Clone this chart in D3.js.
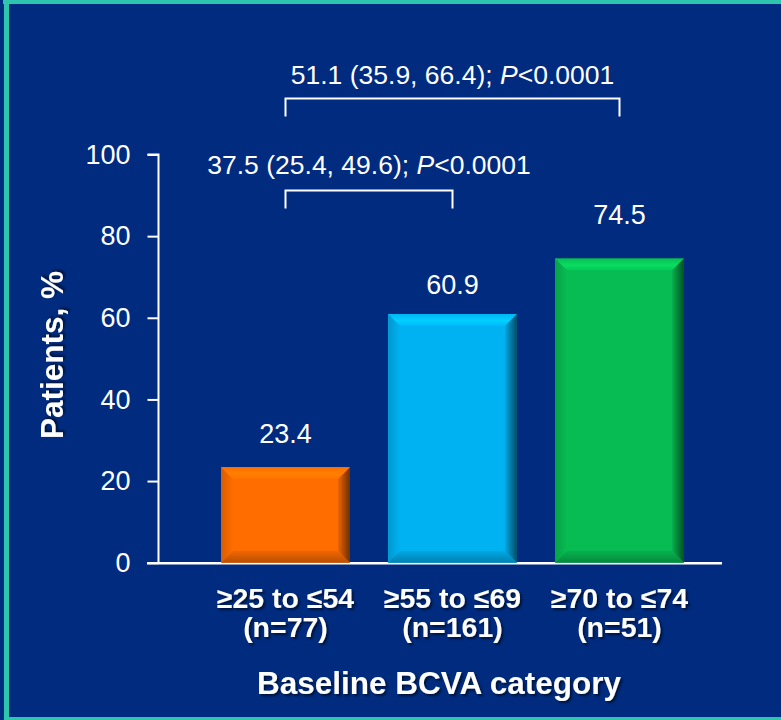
<!DOCTYPE html>
<html>
<head>
<meta charset="utf-8">
<script src="https://cdn.jsdelivr.net/npm/d3@7"></script>
<style>
  html, body { margin: 0; padding: 0; background: #002b7f; }
  svg { display: block; }
  text { font-family: Arial, "Liberation Sans", sans-serif; fill: #ffffff; }
</style>
</head>
<body>
<svg id="chart" width="781" height="720"></svg>
<script>
// Response rate by baseline BCVA category
const categories = ["≥25 to ≤54", "≥55 to ≤69", "≥70 to ≤74"];
const sampleSizes = ["(n=77)", "(n=161)", "(n=51)"];
const values = [23.4, 60.9, 74.5];
const yTicks = [0, 20, 40, 60, 80, 100];
// Pairwise comparisons between categories
const comparisons = [
  { from: 0, to: 1, diff: "37.5 (25.4, 49.6); ", p: "<0.0001", level: 0 },
  { from: 0, to: 2, diff: "51.1 (35.9, 66.4); ", p: "<0.0001", level: 1 }
];

// Styling
const barColors = ["#ff6d00", "#00b2f2", "#07bd53"];
const labelLift = [24, 20, 35];

const svg = d3.select("#chart");
const W = 781, H = 720;

// Background and frame
svg.append("rect").attr("width", W).attr("height", H).attr("fill", "#002b7f");
svg.append("rect").attr("x", 3).attr("y", 0).attr("width", W - 3).attr("height", 4).attr("fill", "#2ec5ae");
svg.append("rect").attr("x", 4).attr("y", 0).attr("width", 5).attr("height", H).attr("fill", "#2ec5ae");
svg.append("rect").attr("x", 4).attr("y", 717).attr("width", W - 4).attr("height", 3).attr("fill", "#2ec5ae");

const defs = svg.append("defs");
const shadow = defs.append("filter").attr("id", "txtShadow")
  .attr("x", "-10%").attr("y", "-30%").attr("width", "130%").attr("height", "180%");
shadow.append("feDropShadow").attr("dx", 2).attr("dy", 2).attr("stdDeviation", 1)
  .attr("flood-color", "#000000").attr("flood-opacity", 0.55);

// Bevel gradients for each bar colour
barColors.forEach((col, i) => {
  const c = d3.color(col);
  const top = defs.append("linearGradient").attr("id", `top${i}`).attr("x1", 0).attr("y1", 0).attr("x2", 0).attr("y2", 1);
  top.append("stop").attr("offset", "0%").attr("stop-color", c.brighter(0.05));
  top.append("stop").attr("offset", "55%").attr("stop-color", c.brighter(0.45));
  top.append("stop").attr("offset", "100%").attr("stop-color", c.brighter(0.1));
  const right = defs.append("linearGradient").attr("id", `right${i}`).attr("x1", 0).attr("y1", 0).attr("x2", 1).attr("y2", 0);
  right.append("stop").attr("offset", "0%").attr("stop-color", c.darker(0.2));
  right.append("stop").attr("offset", "100%").attr("stop-color", c.darker(2.4));
  const bottom = defs.append("linearGradient").attr("id", `bottom${i}`).attr("x1", 0).attr("y1", 0).attr("x2", 0).attr("y2", 1);
  bottom.append("stop").attr("offset", "0%").attr("stop-color", c.darker(0.15));
  bottom.append("stop").attr("offset", "100%").attr("stop-color", c.darker(0.9));
  const left = defs.append("linearGradient").attr("id", `left${i}`).attr("x1", 0).attr("y1", 0).attr("x2", 1).attr("y2", 0);
  left.append("stop").attr("offset", "0%").attr("stop-color", c.darker(0.45));
  left.append("stop").attr("offset", "100%").attr("stop-color", c);
});

const y = d3.scaleLinear().domain([0, 100]).range([562.7, 154.5]);
const x = d3.scaleBand().domain(d3.range(categories.length)).range([202, 703]).paddingInner(0.228).paddingOuter(0.114);

// Y axis
const yAxis = svg.append("g").attr("transform", "translate(158.5,0)")
  .call(d3.axisLeft(y).tickValues(yTicks).tickSize(11).tickPadding(17));
yAxis.select(".domain").attr("stroke", "#fff").attr("stroke-width", 2)
  .attr("d", `M-11,${y(100)}H0V${y(0)}`);
yAxis.selectAll(".tick line").attr("stroke", "#fff").attr("stroke-width", 2);
yAxis.selectAll(".tick text").attr("fill", "#fff").attr("font-size", 27)
  .style("font-family", "Arial, 'Liberation Sans', sans-serif");

// X axis baseline
svg.append("line").attr("x1", 147).attr("x2", 722).attr("y1", y(0) + 0.5).attr("y2", y(0) + 0.5)
  .attr("stroke", "#fff").attr("stroke-width", 2.5);

// Bars with bevelled edges
const bevel = 12;
const bars = svg.append("g").selectAll("g").data(values).join("g");
bars.each(function(v, i) {
  const g = d3.select(this);
  const x0 = x(i), x1 = x(i) + x.bandwidth();
  const y0 = y(v), y1 = y(0);
  g.append("rect").attr("x", x0).attr("y", y0).attr("width", x1 - x0).attr("height", y1 - y0)
    .attr("fill", barColors[i]);
  g.append("path").attr("d", `M${x0},${y0}L${x1},${y0}L${x1 - bevel},${y0 + bevel}L${x0 + bevel},${y0 + bevel}Z`)
    .attr("fill", `url(#top${i})`);
  g.append("path").attr("d", `M${x0},${y0}L${x0 + bevel},${y0 + bevel}L${x0 + bevel},${y1 - bevel}L${x0},${y1}Z`)
    .attr("fill", `url(#left${i})`);
  g.append("path").attr("d", `M${x0},${y1}L${x1},${y1}L${x1 - bevel},${y1 - bevel}L${x0 + bevel},${y1 - bevel}Z`)
    .attr("fill", `url(#bottom${i})`);
  g.append("path").attr("d", `M${x1},${y0}L${x1},${y1}L${x1 - bevel},${y1 - bevel}L${x1 - bevel},${y0 + bevel}Z`)
    .attr("fill", `url(#right${i})`);
  g.append("text").attr("x", (x0 + x1) / 2).attr("y", y0 - labelLift[i])
    .attr("text-anchor", "middle").attr("font-size", 27).text(v.toFixed(1));
});

// Category labels
const xl = svg.append("g");
categories.forEach((c, i) => {
  const cx = x(i) + x.bandwidth() / 2;
  xl.append("text").attr("x", cx).attr("y", 608).attr("text-anchor", "middle")
    .attr("font-size", 28.5).attr("font-weight", "bold").attr("filter", "url(#txtShadow)").text(c);
  xl.append("text").attr("x", cx).attr("y", 637).attr("text-anchor", "middle")
    .attr("font-size", 28.5).attr("font-weight", "bold").attr("filter", "url(#txtShadow)").text(sampleSizes[i]);
});

// Comparison brackets
const bracketTop = [190.5, 98.5];
const textGap = [17, 15];
const legLen = 18;
comparisons.forEach(c => {
  const xa = x(c.from) + x.bandwidth() / 2;
  const xb = x(c.to) + x.bandwidth() / 2;
  const yb = bracketTop[c.level];
  svg.append("path")
    .attr("d", `M${xa},${yb + legLen}V${yb}H${xb}V${yb + legLen}`)
    .attr("fill", "none").attr("stroke", "#fff").attr("stroke-width", 2);
  const t = svg.append("text").attr("x", (xa + xb) / 2).attr("y", yb - textGap[c.level])
    .attr("text-anchor", "middle").attr("font-size", 26.5);
  t.append("tspan").text(c.diff);
  t.append("tspan").attr("font-style", "italic").text("P");
  t.append("tspan").text(c.p);
});

// Axis titles
svg.append("text").attr("transform", `translate(63,355) rotate(-90)`)
  .attr("text-anchor", "middle").attr("font-size", 31.5).attr("font-weight", "bold")
  .attr("filter", "url(#txtShadow)").text("Patients, %");
svg.append("text").attr("x", 439).attr("y", 694).attr("text-anchor", "middle")
  .attr("font-size", 31.5).attr("font-weight", "bold")
  .attr("filter", "url(#txtShadow)").text("Baseline BCVA category");
</script>
</body>
</html>
